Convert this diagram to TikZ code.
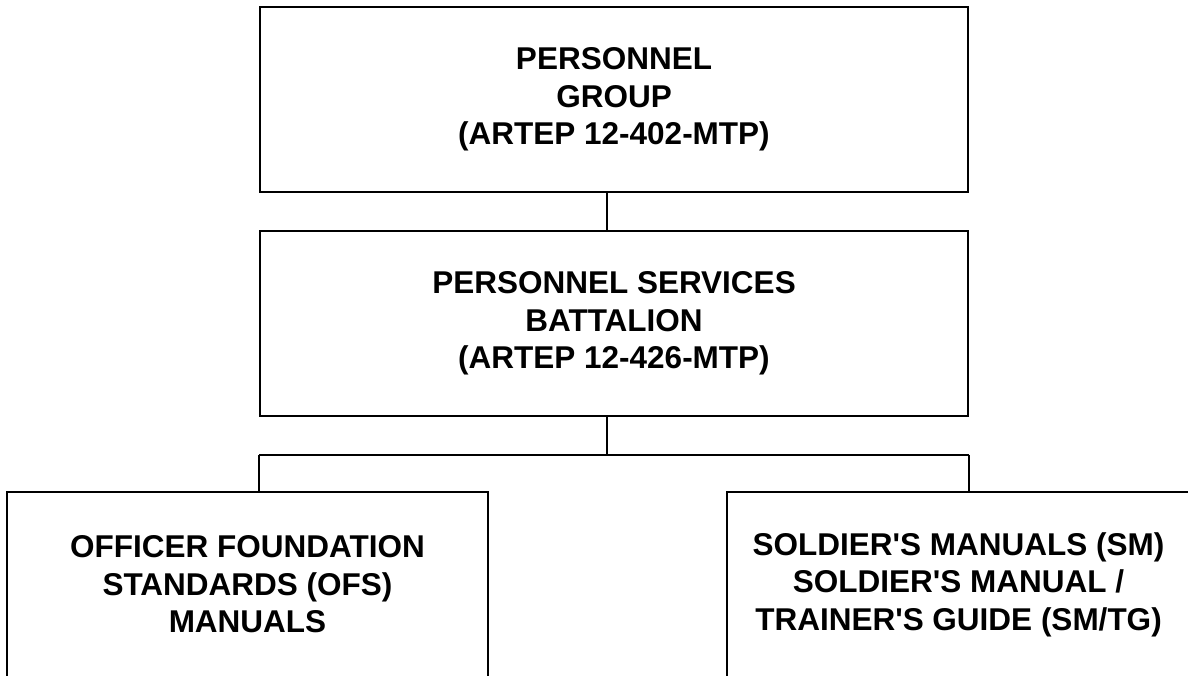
\documentclass[tikz,border=0pt]{standalone}
\usepackage{fontspec}
\setmainfont{Liberation Sans}
\usetikzlibrary{calc}
\tikzstyle{unitbox}=[draw, line width=1.6pt, align=center, inner sep=0pt, minimum height=185pt, font=\bfseries\fontsize{31.5}{37.5}\selectfont]
\tikzstyle{tie}=[line width=1.6pt]

\begin{document}
\begin{tikzpicture}[x=1pt,y=-1pt]
	\clip (0,0) rectangle (1188,675);
	% chain of command
	\node[unitbox, minimum width=708pt] (group) at (614,99.5) {PERSONNEL\\GROUP\\(ARTEP 12-402-MTP)};
	\node[unitbox, minimum width=708pt] (battalion) at (614,323.5) {PERSONNEL SERVICES\\BATTALION\\(ARTEP 12-426-MTP)};
	% manuals
	\node[unitbox, minimum width=481pt] (ofs) at (247.5,584.5) {OFFICER FOUNDATION\\STANDARDS (OFS)\\MANUALS};
	\node[unitbox, minimum width=463pt] (sm) at (958.5,584.5) {SOLDIER\textquotesingle S MANUALS (SM)\\SOLDIER\textquotesingle S MANUAL /\\TRAINER\textquotesingle S GUIDE (SM/TG)};
	\coordinate (spine) at (607,0);
	\draw[tie] (group.south -| spine) -- (battalion.north -| spine);
	\draw[tie] (battalion.south -| spine) -- ++(0,38) coordinate (fork);
	\coordinate (forkleft) at (fork -| battalion.west);
	\coordinate (forkright) at (fork -| battalion.east);
	\draw[tie] (forkleft) -- (forkright);
	\draw[tie] (forkleft) -- (forkleft |- ofs.north); %ofs
	\draw[tie] (forkright) -- (forkright |- sm.north); %sm
\end{tikzpicture}
\end{document}
